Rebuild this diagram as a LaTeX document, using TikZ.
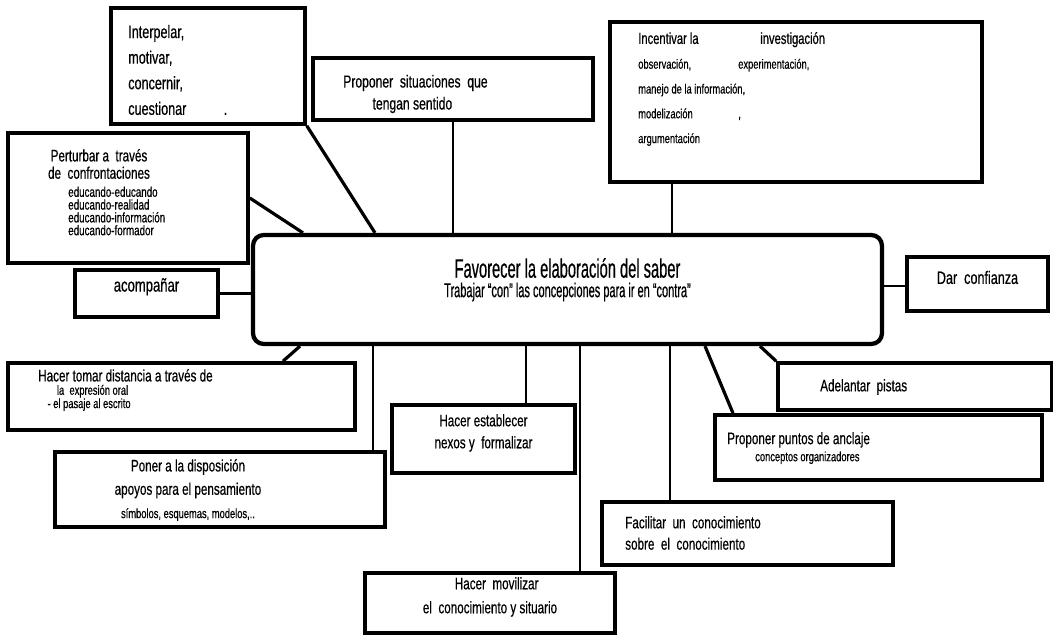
\documentclass[tikz,border=0pt]{standalone}
\usepackage{fontspec}
\setmainfont{Liberation Sans}[FakeStretch=0.7,FakeBold=0.5]
\newfontfamily\hubfont{Liberation Sans}[FakeStretch=0.55,FakeBold=0.5]
\usetikzlibrary{fit,calc}
\newcommand{\fsz}[2]{\fontsize{#1}{#2}\selectfont}
\tikzset{
  mapbox/.style={draw=black,line width=2.7pt,inner sep=0pt,align=center},
  hubbox/.style={draw=black,line width=3.2pt,rounded corners=8pt,inner sep=0pt,align=center},
  boxtext/.style={inner sep=0pt,align=left,anchor=west},
  link/.style={line width=2.4pt,draw=black},
  stem/.style={line width=1.7pt,draw=black}
}

\begin{document}
\begin{tikzpicture}[x=0.75pt,y=-0.75pt]
  \useasboundingbox (0,0) rectangle (1053,636);

  % centre
  \node[hubbox, fit={(253,235) (882,344)}, font=\hubfont\fsz{15}{14.6}] (hub)
    {{\fsz{20}{14.6}Favorecer la elaboración del saber}\\Trabajar “con” las concepciones para ir en “contra”};

  % upper boxes
  \node[mapbox, fit={(111,8) (305,124)}] (interpelar) {};
  \node[boxtext, font=\fsz{13.5}{19.2}] (interpelar-t) at (128,70)
    {Interpelar,\\motivar,\\concernir,\\cuestionar\hspace{28pt}.};

  \node[mapbox, fit={(313,58) (593,120)}] (situaciones) {};
  \node[boxtext, font=\fsz{13}{16.5}] (situaciones-t) at (343,94)
    {Proponer\ \ situaciones\ \ que\\\hspace*{22pt}tengan sentido};

  \node[mapbox, fit={(610,22) (982,182)}] (incentivar) {};
  \node[boxtext, font=\fsz{10}{18.6}] (incentivar-t) at (638,89)
    {\makebox[75pt][l]{\fsz{12}{18.6}Incentivar la}\hspace{16.5pt}{\fsz{12}{18.6}investigación}\\
     \makebox[75pt][l]{observación,}experimentación,\\
     manejo de la información,\\
     \makebox[75pt][l]{modelización},\\
     argumentación};

  \node[mapbox, fit={(8,133) (248,263)}] (perturbar) {};
  \node[inner sep=0pt, align=center, font=\fsz{12.5}{13}] (perturbar-t) at (99,164)
    {Perturbar a\ \ través\\de\ \ confrontaciones};
  \node[boxtext, font=\fsz{10.5}{9.6}] (perturbar-l) at (68,211)
    {educando-educando\\educando-realidad\\educando-información\\educando-formador};

  \node[mapbox, fit={(75,270) (218,317)}, font=\fsz{14}{16}] (acompanar) {acompañar};

  \node[mapbox, fit={(907,257) (1048,311)}, font=\fsz{13.5}{16}] (confianza) {Dar\ \ confianza};

  % lower boxes
  \node[mapbox, fit={(8,363) (355,430)}] (distancia) {};
  \node[boxtext, font=\fsz{10}{10}] (distancia-t) at (38,390)
    {{\fsz{12.5}{10}Hacer tomar distancia a través de}\\
     \hspace*{14pt}la\hspace{4pt}expresión oral\\
     \hspace*{7pt}- el pasaje al escrito};

  \node[mapbox, fit={(55,452) (385,527)}] (apoyos) {};
  \node[inner sep=0pt, align=center, font=\fsz{12.5}{17.5}] (apoyos-t) at (188,490)
    {Poner a la disposición\\apoyos para el pensamiento\\{\fsz{10}{15}símbolos, esquemas, modelos,..}};

  \node[mapbox, fit={(392,405) (575,473)}, font=\fsz{12.5}{16.5}] (nexos)
    {Hacer establecer\\nexos y\ \ formalizar};

  \node[mapbox, fit={(365,573) (615,633)}, font=\fsz{12.5}{18}] (movilizar)
    {\hspace*{10pt}Hacer\ \ movilizar\\el\ \ conocimiento y situario};

  \node[mapbox, fit={(602,502) (893,565)}] (metasaber) {};
  \node[boxtext, font=\fsz{12.5}{16}] (metasaber-t) at (625,533)
    {Facilitar\ \ un\ \ conocimiento\\ sobre\ \ el\ \ conocimiento};

  \node[mapbox, fit={(715,415) (1042,480)}] (anclaje) {};
  \node[boxtext, font=\fsz{10}{12.8}] (anclaje-t) at (727,448)
    {{\fsz{12.5}{12.8}Proponer puntos de anclaje}\\\hspace*{21pt}conceptos organizadores};

  \node[mapbox, fit={(778,363) (1052,410)}] (pistas) {};
  \node[boxtext, font=\fsz{12.5}{16}] (pistas-t) at (820,387) {Adelantar\ \ pistas};

  % connectors
  \draw[link] (interpelar.south east) -- (hub.north -| 375,0);
  \draw[link] (perturbar.east) -- (hub.north -| 303,0);
  \draw[link] (acompanar.east) -- (acompanar.east -| hub.west);
  \draw[stem] (situaciones.south) -- (situaciones.south |- hub.north);
  \draw[stem] (incentivar.south -| 672,0) -- (hub.north -| 672,0);
  \draw[stem] (hub.east |- 0,286) -- (confianza.west |- 0,286);
  \draw[link] (distancia.north -| 283,0) -- (hub.south -| 300,0);
  \draw[stem] (hub.south -| 373,0) -- (apoyos.north -| 373,0);
  \draw[stem] (hub.south -| 526,0) -- (nexos.north -| 526,0);
  \draw[stem] (hub.south -| 580,0) -- (movilizar.north -| 580,0);
  \draw[stem] (hub.south -| 670,0) -- (metasaber.north -| 670,0);
  \draw[link] (hub.south -| 705,0) -- (anclaje.north -| 733,0);
  \draw[link] (hub.south -| 760,0) -- (pistas.north west);
\end{tikzpicture}
\end{document}
